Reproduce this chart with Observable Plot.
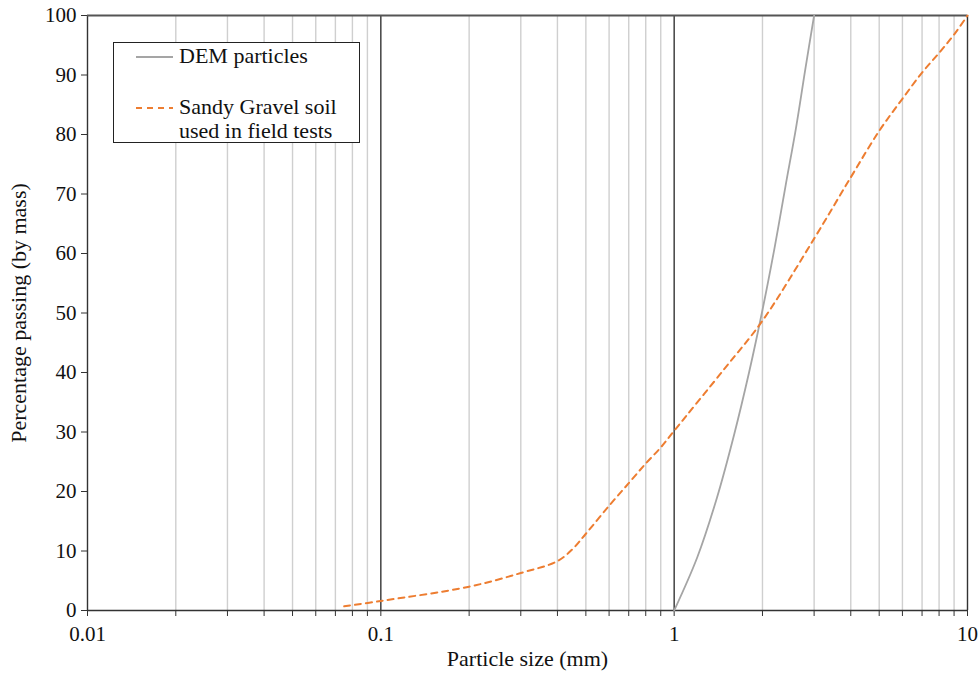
<!DOCTYPE html>
<html>
<head>
<meta charset="utf-8">
<script src="https://cdn.jsdelivr.net/npm/d3@7"></script>
<script src="https://cdn.jsdelivr.net/npm/@observablehq/plot@0.6"></script>
<style>
  html, body { margin: 0; padding: 0; background: #fff; }
  #wrap { position: relative; width: 980px; height: 674px; font-family: "Liberation Serif", "Times New Roman", serif; }
  #wrap svg { font-family: "Liberation Serif", "Times New Roman", serif !important; }
  #wrap svg text { font-size: 21px; fill: #111; }
  #wrap svg g[aria-label="x-axis label"] text, #wrap svg g[aria-label="y-axis label"] text { font-size: 22px; }
  #legend { position: absolute; left: 113px; top: 42px; width: 247px; height: 101px; border: 1.3px solid #222; background: #fff; box-sizing: border-box; font-size: 22px; color: #111; }
  .item { position: absolute; left: 22px; display: flex; align-items: flex-start; }
  .item svg { margin-right: 5px; }
</style>
</head>
<body>
<div id="wrap"></div>
<script>
// Data
const demSize = [1, 1.2, 1.4, 1.6, 1.8, 2, 2.2, 2.4, 2.6, 2.8, 3];
const demPassing = [0, 9, 19, 29.5, 40, 50.5, 61, 71.5, 81, 91, 100];

const soilSize = [0.075, 0.1, 0.2, 0.3, 0.4, 0.45, 0.5, 0.6, 0.7, 0.8, 0.9, 1, 1.5, 2, 3, 4, 5, 6, 7, 8, 9, 10];
const soilPassing = [0.7, 1.6, 4, 6.3, 8.3, 10.3, 12.9, 17.6, 21.4, 24.7, 27.4, 30.2, 40.9, 48.7, 62.5, 72.8, 80.6, 86.0, 90.4, 93.7, 96.8, 100];

const majorTicks = [0.01, 0.1, 1, 10];
const minorTicks = [0.02,0.03,0.04,0.05,0.06,0.07,0.08,0.09,0.2,0.3,0.4,0.5,0.6,0.7,0.8,0.9,2,3,4,5,6,7,8,9];
const yTicks = [0,10,20,30,40,50,60,70,80,90,100];

const seriesNames = ["DEM particles", "Sandy Gravel soil", "used in field tests"];

const dem = demSize.map((s, i) => ({size: s, passing: demPassing[i]}));
const soil = soilSize.map((s, i) => ({size: s, passing: soilPassing[i]}));
const allTicks = majorTicks.concat(minorTicks).sort((a, b) => a - b);

const plot = Plot.plot({
  width: 980,
  height: 674,
  marginLeft: 87,
  marginRight: 13,
  marginTop: 15,
  marginBottom: 64,
  style: {fontFamily: "'Liberation Serif', 'Times New Roman', serif", color: "#111", background: "#fff"},
  x: {type: "log", domain: [0.01, 10]},
  y: {domain: [0, 100]},
  marks: [
    Plot.ruleX(minorTicks, {stroke: "#cfcfcf", strokeWidth: 1.4}),
    Plot.ruleX(majorTicks, {stroke: "#333", strokeWidth: 1.4}),
    Plot.ruleY([100], {stroke: "#555", strokeWidth: 2}),
    Plot.ruleY([0], {stroke: "#333", strokeWidth: 1.4}),
    Plot.axisX(allTicks, {
      tickSize: 6, tickPadding: 10, stroke: "#333",
      tickFormat: d => majorTicks.includes(d) ? String(d) : "",
      label: "Particle size (mm)", labelAnchor: "center", labelArrow: "none", labelOffset: 55
    }),
    Plot.axisY(yTicks, {
      tickSize: 6, tickPadding: 5, stroke: "#333",
      label: "Percentage passing (by mass)", labelAnchor: "center", labelArrow: "none", labelOffset: 77
    }),
    Plot.line(dem, {x: "size", y: "passing", stroke: "#a5a5a5", strokeWidth: 1.8, curve: "catmull-rom"}),
    Plot.line(soil, {x: "size", y: "passing", stroke: "#ED7D31", strokeWidth: 2, strokeDasharray: "6,5", curve: "catmull-rom"})
  ]
});

const wrap = document.getElementById("wrap");
wrap.appendChild(plot);

const legend = document.createElement("div");
legend.id = "legend";
legend.innerHTML = `
  <div class="item" style="top:1px">
    <svg width="38" height="24"><line x1="0" x2="37" y1="13" y2="13" stroke="#a5a5a5" stroke-width="1.8"/></svg>
    <span style="line-height:24px">${seriesNames[0]}</span>
  </div>
  <div class="item" style="top:52px">
    <svg width="38" height="24"><line x1="0" x2="37" y1="13" y2="13" stroke="#ED7D31" stroke-width="2" stroke-dasharray="6,5"/></svg>
    <span style="line-height:24px">${seriesNames[1]}<br>${seriesNames[2]}</span>
  </div>`;
wrap.appendChild(legend);
</script>
</body>
</html>
